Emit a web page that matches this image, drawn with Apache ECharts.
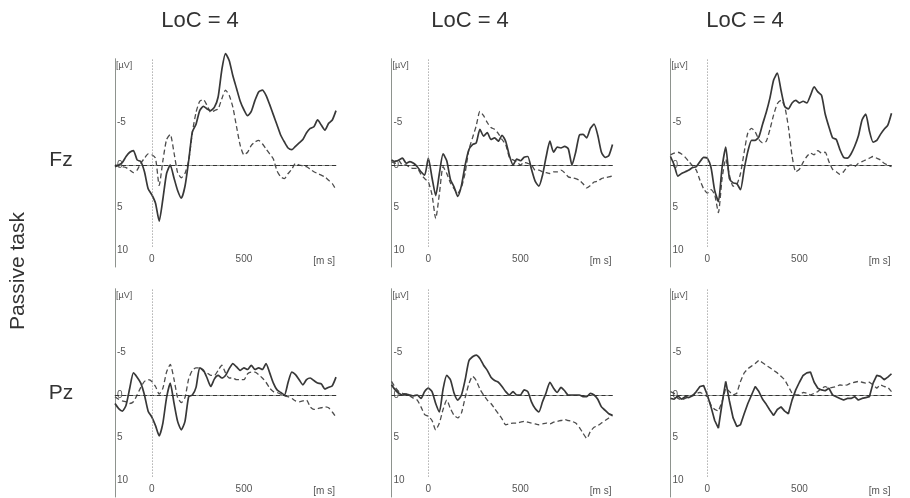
<!DOCTYPE html>
<html>
<head>
<meta charset="utf-8">
<script src="https://cdn.jsdelivr.net/npm/echarts@6/dist/echarts.min.js"></script>
<style>
html,body{margin:0;padding:0;background:#fff;}
#chart{width:910px;height:498px;}
</style>
</head>
<body>
<div id="chart"></div>
<script>
// ---- data (µV, negative plotted upward) ----
const TIME = [-200,-180,-160,-140,-120,-100,-80,-60,-40,-20,0,20,40,60,80,100,120,140,160,180,200,220,240,260,280,300,320,340,360,380,400,420,440,460,480,500,520,540,560,580,600,620,640,660,680,700,720,740,760,780,800,820,840,860,880,900,920,940,960,980,1000];

const COL_TITLES = ['LoC = 4', 'LoC = 4', 'LoC = 4'];
const ROW_LABELS = ['Fz', 'Pz'];
const TASK_LABEL = 'Passive task';
const X_TICKS = [0, 500];
const Y_TICKS = [-5, 0, 5, 10];
const X_UNIT = '[m s]';
const Y_UNIT = '[µV]';

const FZ1_SOLID = [0.2,0.0,-0.3,-1.0,-1.5,-1.7,-0.6,-0.4,0.8,2.8,3.5,4.5,6.6,4.0,1.0,0.0,1.5,3.0,3.9,2.5,-0.5,-3.9,-4.8,-6.4,-6.9,-6.6,-6.4,-6.8,-8.0,-11.2,-13.1,-12.3,-10.5,-9.0,-7.5,-6.5,-5.8,-6.3,-7.6,-8.6,-8.8,-8.2,-7.1,-5.9,-4.7,-3.5,-2.7,-2.0,-1.8,-2.2,-2.6,-3.0,-3.8,-4.3,-4.5,-5.3,-4.7,-4.1,-4.9,-5.3,-6.4];
const FZ1_DASH = [0.0,0.1,0.2,0.3,0.6,0.9,0.6,-0.2,-0.8,-1.3,-1.2,-0.8,2.4,-0.5,-3.0,-3.6,-1.5,0.9,1.5,1.0,-0.5,-3.8,-6.2,-7.5,-7.7,-7.0,-6.2,-6.4,-6.6,-7.8,-8.8,-8.2,-6.8,-4.5,-2.3,-1.2,-1.5,-2.3,-2.7,-2.9,-2.5,-1.9,-1.3,-0.7,0.7,1.4,1.6,1.0,0.5,-0.2,0.0,0.1,0.2,0.5,0.8,1.0,1.2,1.4,1.8,2.2,2.9];

const FZ2_SOLID = [-0.6,-0.4,-0.6,-0.8,-0.2,-0.4,-0.2,0.2,0.8,1.2,-0.8,1.5,3.6,1.0,-1.3,-0.5,1.7,2.6,3.7,2.4,0.0,-1.8,-2.4,-2.6,-4.2,-3.4,-3.8,-3.0,-3.2,-2.8,-3.5,-2.8,-1.1,0.0,-0.7,-0.5,-0.9,-1.0,0.5,1.9,2.5,1.2,-1.0,-2.8,-1.5,-2.1,-2.0,-2.2,-1.9,0.0,-1.5,-3.5,-3.6,-3.2,-4.3,-4.8,-3.5,-1.5,-0.9,-1.1,-2.4];
const FZ2_DASH = [-0.4,-0.2,-0.5,0.0,0.0,0.3,0.4,0.4,1.1,1.6,2.0,3.5,6.3,3.4,0.2,1.0,2.1,2.8,3.3,2.6,0.9,-1.8,-3.2,-4.6,-6.3,-5.8,-5.0,-4.4,-4.2,-3.7,-3.0,-2.4,-0.9,-0.6,-0.4,0.0,-0.3,-0.2,0.0,0.6,0.6,0.8,0.9,1.0,0.8,0.8,0.6,0.9,1.4,1.5,1.6,1.8,2.2,2.7,2.4,2.0,1.9,1.6,1.5,1.4,1.3];

const FZ3_SOLID = [-1.0,0.0,1.3,1.0,0.8,0.6,0.3,0.2,-0.4,-0.9,-0.8,0.3,3.0,4.3,0.3,-2.1,1.6,2.1,2.2,2.9,0.5,-1.6,-2.9,-2.9,-3.3,-4.8,-6.2,-7.9,-10.0,-10.8,-8.8,-6.9,-6.6,-7.3,-7.6,-7.3,-7.5,-7.3,-8.2,-9.2,-8.6,-8.2,-6.0,-4.5,-3.2,-3.0,-1.8,-0.9,-0.8,-1.3,-2.2,-3.4,-5.3,-6.0,-4.0,-2.7,-2.9,-3.6,-4.2,-4.7,-6.1];
const FZ3_DASH = [-1.2,-1.4,-1.5,-1.3,-0.9,-0.4,0.1,0.6,1.8,2.8,3.3,2.9,3.5,5.6,1.6,-0.7,1.2,2.5,2.3,1.0,-1.5,-3.8,-4.3,-3.9,-3.0,-2.6,-2.8,-4.2,-5.9,-7.2,-7.6,-6.9,-4.5,-1.1,0.8,0.5,-0.3,-1.0,-1.4,-1.2,-1.7,-1.4,-1.5,-0.4,0.5,0.8,1.1,0.8,0.2,0.0,0.2,-0.2,-0.4,-0.6,-0.8,-1.0,-0.8,-0.6,-0.2,0.0,0.2];

const PZ1_SOLID = [1.0,1.6,1.9,1.2,-0.8,-2.6,-2.1,-1.4,0.0,1.9,2.6,3.6,4.8,3.3,0.3,-1.4,0.9,3.1,4.1,3.1,0.2,0.0,-0.9,-3.2,-2.9,-2.0,-1.0,-1.9,-2.3,-2.0,-2.3,-3.1,-3.7,-3.3,-2.9,-3.2,-3.0,-3.5,-3.0,-3.2,-3.0,-3.7,-2.6,-1.4,-0.6,-0.3,0.0,-1.5,-2.7,-2.4,-1.8,-1.2,-1.8,-2.0,-1.7,-1.4,-1.3,-0.7,-0.9,-1.1,-2.1];
const PZ1_DASH = [0.2,0.5,0.7,0.8,1.0,0.8,0.0,-0.9,-1.6,-1.8,-1.6,-1.0,-0.1,-0.8,-2.7,-3.6,-1.9,0.3,0.9,0.3,-1.9,-2.9,-3.2,-3.2,-2.8,-2.6,-2.3,-2.3,-2.9,-3.5,-2.6,-2.0,-2.0,-1.8,-1.8,-1.8,-2.5,-2.7,-2.7,-2.4,-2.0,-1.5,-0.8,-0.4,-0.3,-0.1,0.1,0.2,0.4,0.7,0.8,0.7,0.6,1.4,1.7,1.6,1.5,1.4,1.5,2.0,2.6];

const PZ2_SOLID = [-1.2,-0.6,-0.2,0.0,-0.1,0.0,0.1,0.0,0.4,-0.4,-0.8,-0.4,1.0,2.0,-0.7,-2.3,-1.8,-0.2,0.6,0.0,-1.8,-4.0,-4.5,-4.7,-4.3,-3.5,-2.9,-2.1,-1.7,-1.5,-1.0,-0.4,0.0,-0.4,0.0,0.0,-0.6,-0.4,0.8,1.6,2.0,0.8,-0.3,-1.5,-0.8,-0.3,-0.9,-0.5,0.0,0.0,0.0,0.0,0.2,0.2,-0.2,0.0,0.5,1.4,1.8,2.2,2.4];
const PZ2_DASH = [-1.6,-0.9,-0.4,-0.2,-0.1,0.1,0.4,0.6,1.4,2.3,2.5,3.0,4.1,3.3,1.7,0.6,1.6,2.4,2.7,2.1,0.3,-1.3,-2.2,-1.7,-0.7,0.0,0.6,1.0,1.6,2.2,2.8,3.5,3.4,3.3,3.3,3.2,3.1,3.2,3.3,3.4,3.5,3.4,3.3,3.4,3.2,3.1,3.0,2.9,3.0,3.1,3.3,3.8,4.5,5.1,4.3,3.8,3.6,3.3,3.0,2.7,2.4];

const PZ3_SOLID = [0.4,0.5,0.1,0.5,0.2,0.3,0.1,-0.4,-1.0,-1.1,0.0,1.4,3.0,3.9,1.0,-1.6,0.7,2.7,3.7,3.5,2.2,1.0,0.0,-1.0,-0.4,0.5,1.1,1.8,2.4,1.7,1.4,1.9,2.2,0.6,-0.6,-1.5,-2.3,-2.6,-2.7,-1.5,-0.8,-0.6,-0.5,-0.8,0.0,0.2,0.4,0.6,0.4,0.4,0.2,0.6,0.4,0.3,0.2,-1.4,-2.3,-2.2,-1.8,-2.1,-2.5];
const PZ3_DASH = [-0.4,-0.2,0.4,0.6,0.4,0.2,0.0,-0.2,-0.3,-0.1,0.2,1.2,1.7,1.9,0.8,-0.8,-0.4,0.0,-0.2,-1.6,-2.6,-3.1,-3.4,-3.7,-4.1,-3.8,-3.5,-3.2,-2.9,-2.6,-2.2,-1.8,-1.0,-0.2,0.0,0.0,-0.3,-0.2,0.0,-0.2,-0.4,-0.8,-1.0,-0.8,-0.9,-1.0,-1.2,-1.1,-1.2,-1.4,-1.5,-1.6,-1.5,-1.4,-1.5,-1.2,-0.8,-1.2,-1.0,-0.9,-0.4];

const PANELS = [
  [FZ1_SOLID, FZ1_DASH], [FZ2_SOLID, FZ2_DASH], [FZ3_SOLID, FZ3_DASH],
  [PZ1_SOLID, PZ1_DASH], [PZ2_SOLID, PZ2_DASH], [PZ3_SOLID, PZ3_DASH]
];

// ---- layout ----
const COL_LEFT = [115, 391.5, 670.5];
const GRID_W = 221;
const ROW_TOP = [58.75, 288.75];
const GRID_H = 208.25;
const Y_MIN = -12.5, Y_MAX = 12;
const TITLE_X = [200, 470, 745];
const FONT = '"Liberation Sans", Arial, Helvetica, sans-serif';

const grids = [], xAxes = [], yAxes = [], series = [], graphics = [];

PANELS.forEach((pair, k) => {
  const r = Math.floor(k / 3), c = k % 3;
  const sm = (k === 5) ? false : 0.2;
  grids.push({left: COL_LEFT[c], top: ROW_TOP[r], width: GRID_W, height: GRID_H});
  xAxes.push({
    type: 'value', gridIndex: k, min: -200, max: 1000, interval: 100,
    axisLine: {show: true, lineStyle: {color: '#8e938e', width: 1}},
    axisTick: {show: false}, splitLine: {show: false},
    axisLabel: {inside: true, margin: 3, color: '#555', fontSize: 10, fontFamily: FONT,
      formatter: v => (X_TICKS.indexOf(v) >= 0 ? String(v) : '')}
  });
  yAxes.push({
    type: 'value', gridIndex: k, inverse: true, min: Y_MIN, max: Y_MAX, interval: 2.5,
    axisLine: {show: true, onZero: false, lineStyle: {color: '#8e938e', width: 1}},
    axisTick: {show: false}, splitLine: {show: false},
    axisLabel: {inside: true, margin: 2, color: '#555', fontSize: 10, fontFamily: FONT,
      formatter: v => (Y_TICKS.indexOf(v) >= 0 ? String(v) : '')}
  });
  const solid = pair[0], dash = pair[1];
  series.push({
    type: 'line', xAxisIndex: k, yAxisIndex: k, symbol: 'none', clip: false, z: 4, smooth: sm,
    data: TIME.map((t, i) => [t, solid[i]]),
    lineStyle: {color: '#383838', width: 1.7},
    markLine: {
      silent: true, symbol: ['none', 'none'], label: {show: false}, animation: false,
      data: [
        {yAxis: 0, lineStyle: {type: [4, 3], color: '#333', width: 1.2}},
        [{coord: [0, -12.4], lineStyle: {type: [1, 2], color: '#888', width: 1}},
         {coord: [0, 9.6], lineStyle: {type: [1, 2], color: '#888', width: 1}}]
      ]
    }
  });
  series.push({
    type: 'line', xAxisIndex: k, yAxisIndex: k, symbol: 'none', clip: false, z: 3, smooth: sm,
    data: TIME.map((t, i) => [t, dash[i]]),
    lineStyle: {color: '#4d4d4d', width: 1.3, type: [5, 3]}
  });
  graphics.push({type: 'text', x: COL_LEFT[c] + 1, y: ROW_TOP[r] + 7,
    style: {text: Y_UNIT, fontSize: 9, fill: '#555', fontFamily: FONT, textAlign: 'left', textVerticalAlign: 'middle'}});
  graphics.push({type: 'text', x: COL_LEFT[c] + GRID_W - 1, y: ROW_TOP[r] + GRID_H - 6,
    style: {text: X_UNIT, fontSize: 10, fill: '#555', fontFamily: FONT, textAlign: 'right', textVerticalAlign: 'middle'}});
});

COL_TITLES.forEach((t, c) => {
  graphics.push({type: 'text', x: TITLE_X[c], y: 21,
    style: {text: t, fontSize: 22, fill: '#333', fontFamily: FONT, textAlign: 'center', textVerticalAlign: 'middle'}});
});
const ROW_Y = [160, 393];
ROW_LABELS.forEach((t, r) => {
  graphics.push({type: 'text', x: 61, y: ROW_Y[r],
    style: {text: t, fontSize: 21, fill: '#333', fontFamily: FONT, textAlign: 'center', textVerticalAlign: 'middle'}});
});
graphics.push({type: 'text', x: 18, y: 271, rotation: Math.PI / 2,
  style: {text: TASK_LABEL, fontSize: 21, fill: '#333', fontFamily: FONT, textAlign: 'center', textVerticalAlign: 'middle'}});

const chart = echarts.init(document.getElementById('chart'), null, {renderer: 'canvas'});
chart.setOption({
  animation: false,
  backgroundColor: '#fff',
  grid: grids, xAxis: xAxes, yAxis: yAxes, series: series,
  graphic: graphics
});
</script>
</body>
</html>
